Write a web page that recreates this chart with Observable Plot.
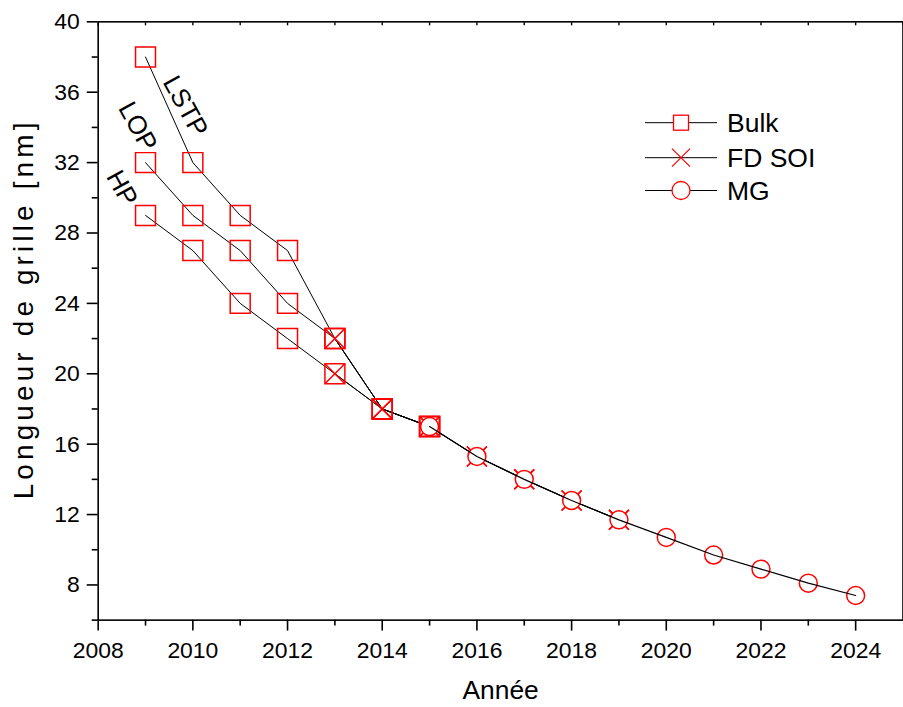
<!DOCTYPE html>
<html>
<head>
<meta charset="utf-8">
<script src="https://cdn.jsdelivr.net/npm/d3@7"></script>
<script src="https://cdn.jsdelivr.net/npm/@observablehq/plot@0.6"></script>
<style>
  html, body { margin: 0; padding: 0; overflow: hidden; background: #fff; }
  #chart { position: relative; width: 903px; height: 707px; overflow: hidden; }
  #chart svg { display: block; }
  #legend { position: absolute; left: 0; top: 0; pointer-events: none; }
</style>
</head>
<body>
<div id="chart"></div>
<script>
// Gate length roadmap (nm) per year, by technology
const bulkYears = [2009, 2010, 2011, 2012, 2013, 2014, 2015];
const bulkLSTP  = [38, 32, 29, 27, 22, 18, 17];
const bulkLOP   = [32, 29, 27, 24, 22, 18, 17];
const bulkHP    = [29, 27, 24, 22, 20, 18, 17];

const fdsoiYears = [2013, 2014, 2015, 2016, 2017, 2018, 2019];
const fdsoiUpper = [22, 18, 17, 15.3, 14, 12.8, 11.7];
const fdsoiLower = [20, 18, 17, 15.3, 14, 12.8, 11.7];

const mgYears  = [2015, 2016, 2017, 2018, 2019, 2020, 2021, 2022, 2023, 2024];
const mgValues = [17, 15.3, 14, 12.8, 11.7, 10.7, 9.7, 8.9, 8.1, 7.4];

const seriesNames = ["Bulk", "FD SOI", "MG"];

// Curve annotations for the three bulk variants
const variantNames  = ["LSTP", "LOP", "HP"];
const variantLabelX = [2009.84, 2008.83, 2008.5];
const variantLabelY = [35.2, 34.05, 30.55];

const xMajorTicks = [2008, 2010, 2012, 2014, 2016, 2018, 2020, 2022, 2024];
const xMinorTicks = [2009, 2011, 2013, 2015, 2017, 2019, 2021, 2023];
const xAllTicks   = d3.range(2008, 2026);
const yMajorTicks = [8, 12, 16, 20, 24, 28, 32, 36, 40];
const yMinorTicks = [6, 10, 14, 18, 22, 26, 30, 34, 38];

const xTitle = "Année";
const yTitle = "Longueur de grille [nm]";

// Long-format table built from the arrays above
const rows = [];
function addSeries(series, group, years, values) {
  years.forEach((year, i) => rows.push({series, group, year, value: values[i]}));
}
addSeries("Bulk", "Bulk LSTP", bulkYears, bulkLSTP);
addSeries("Bulk", "Bulk LOP", bulkYears, bulkLOP);
addSeries("Bulk", "Bulk HP", bulkYears, bulkHP);
addSeries("FD SOI", "FD SOI upper", fdsoiYears, fdsoiUpper);
addSeries("FD SOI", "FD SOI lower", fdsoiYears, fdsoiLower);
addSeries("MG", "MG", mgYears, mgValues);

const bulkRows  = rows.filter(d => d.series === "Bulk");
const fdsoiRows = rows.filter(d => d.series === "FD SOI");
const mgRows    = rows.filter(d => d.series === "MG");

const RED = "#ff0000";
const font = "'Liberation Sans', Arial, Helvetica, sans-serif";

const plot = Plot.plot({
  width: 906,
  height: 707,
  marginLeft: 98,
  marginRight: 0.5,
  marginTop: 21.4,
  marginBottom: 85.3,
  style: {fontFamily: font, background: "#fff", color: "#000"},
  x: {domain: [2008, 2025]},
  y: {domain: [6, 40]},
  marks: [
    Plot.frame({stroke: "#000", strokeWidth: 1.6}),
    // bottom axis
    Plot.axisX({ticks: xMajorTicks, tickSize: 11, tickPadding: 10.5, tickFormat: d => String(d),
                fontSize: 23, label: null, strokeWidth: 1.6}),
    Plot.axisX({ticks: xMinorTicks, tickSize: 6, tickFormat: () => "", label: null, strokeWidth: 1.6}),
    // small inward ticks along the top edge
    Plot.axisX({anchor: "top", ticks: xAllTicks, tickSize: 3, dy: 3, tickFormat: () => "",
                label: null, strokeWidth: 1.4}),
    // left axis
    Plot.axisY({ticks: yMajorTicks, tickSize: 11, tickPadding: 7.5, tickFormat: d => String(d),
                fontSize: 23, label: null, strokeWidth: 1.6}),
    Plot.axisY({ticks: yMinorTicks, tickSize: 6, tickFormat: () => "", label: null, strokeWidth: 1.6}),
    // bulk and FD SOI lines with their markers
    Plot.line(bulkRows, {x: "year", y: "value", z: "group", stroke: "#000", strokeWidth: 1}),
    Plot.line(fdsoiRows, {x: "year", y: "value", z: "group", stroke: "#000", strokeWidth: 1}),
    Plot.dot(bulkRows,
             {x: "year", y: "value", symbol: "square", r: 11.3, fill: "none", stroke: RED, strokeWidth: 1.5}),
    Plot.dot(fdsoiRows,
             {x: "year", y: "value", symbol: "times", r: 9.15, fill: "none", stroke: RED, strokeWidth: 1.5}),
    // MG: white circles, its line drawn on top
    Plot.dot(mgRows,
             {x: "year", y: "value", symbol: "circle", r: 9, fill: "#fff", stroke: RED, strokeWidth: 1.5}),
    Plot.line(mgRows, {x: "year", y: "value", stroke: "#000", strokeWidth: 1.2}),
    // variant labels
    Plot.text(variantNames, {x: (d, i) => variantLabelX[i], y: (d, i) => variantLabelY[i], text: d => d,
                             rotate: 61, fontSize: 26, fill: "#000"}),
    // x axis title
    Plot.text([xTitle], {frameAnchor: "bottom", dy: 79, text: d => d,
                         lineAnchor: "bottom", fontSize: 26.5, fill: "#000"})
  ]
});

// y axis title, spread along the left margin
d3.select(plot).append("text")
  .attr("transform", "translate(33.5,312) rotate(-90)")
  .attr("text-anchor", "middle")
  .attr("font-size", 28)
  .attr("font-family", font)
  .attr("fill", "#000")
  .attr("textLength", 378)
  .attr("lengthAdjust", "spacing")
  .text(yTitle);

const chart = document.getElementById("chart");
chart.appendChild(plot);

// Legend
const legendRows = [122.7, 157.7, 190.5];
const legend = d3.select(chart).append("svg")
  .attr("id", "legend")
  .attr("width", 903)
  .attr("height", 707)
  .style("font-family", font);

seriesNames.forEach((name, i) => {
  const g = legend.append("g").attr("transform", `translate(0,${legendRows[i]})`);
  g.append("line").attr("x1", 645).attr("x2", 717).attr("y1", 0).attr("y2", 0)
    .attr("stroke", "#000").attr("stroke-width", 1);
  if (name === "Bulk") {
    g.append("rect").attr("x", 681 - 7.5).attr("y", -7.5).attr("width", 15).attr("height", 15)
      .attr("fill", "#fff").attr("stroke", RED).attr("stroke-width", 1.3);
  } else if (name === "FD SOI") {
    g.append("path").attr("d", "M672,-9L690,9M672,9L690,-9")
      .attr("fill", "none").attr("stroke", RED).attr("stroke-width", 1.2);
  } else {
    g.append("circle").attr("cx", 681).attr("cy", 0).attr("r", 9)
      .attr("fill", "#fff").attr("stroke", RED).attr("stroke-width", 1.3);
  }
  g.append("text").attr("x", 727).attr("y", 9.5).attr("font-size", 26.5).attr("fill", "#000").text(name);
});
</script>
</body>
</html>
